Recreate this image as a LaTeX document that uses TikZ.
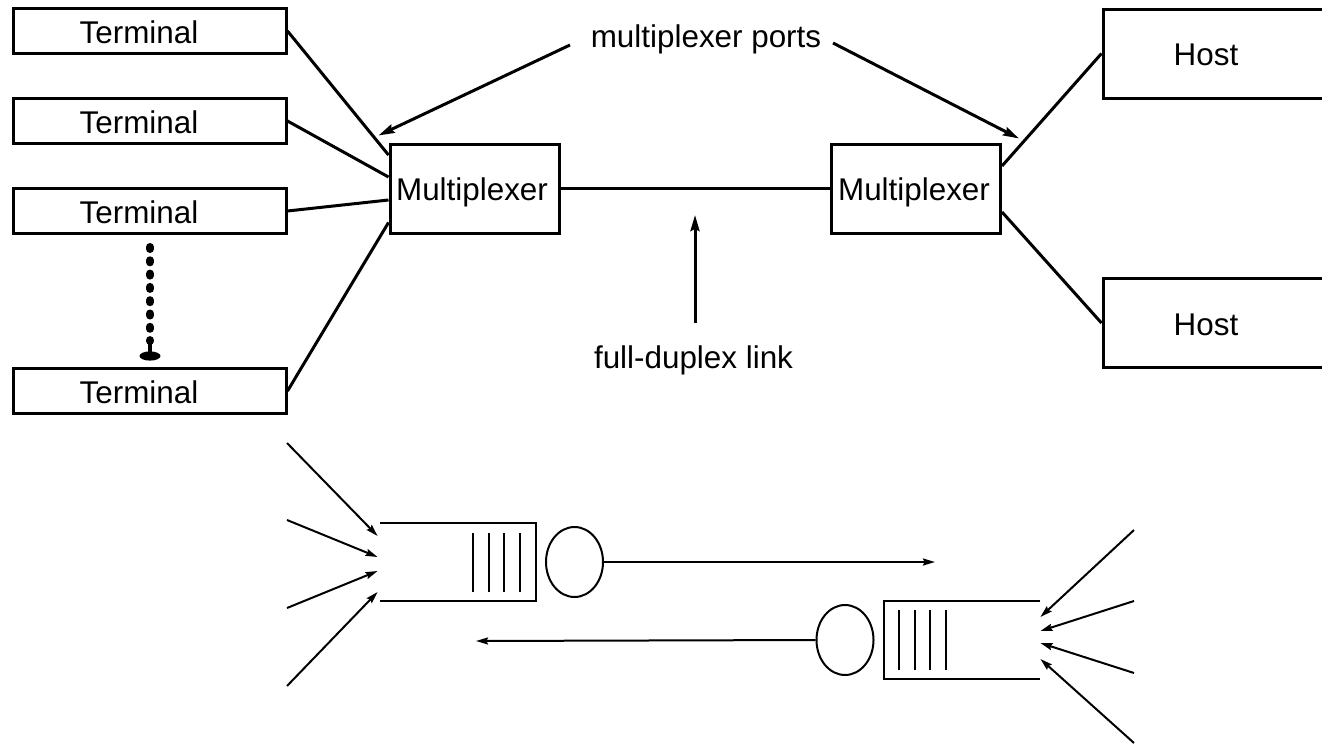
\documentclass[tikz,border=0pt]{standalone}
\usepackage{fontspec}
\setmainfont{Liberation Sans}
\usetikzlibrary{arrows.meta,calc,shapes.geometric}
\begin{document}
\begin{tikzpicture}[x=0.5pt,y=-0.5pt,
  box/.style={draw, rectangle, line width=1.5pt, inner sep=0pt},
  termbox/.style={box, minimum width=136.5pt, minimum height=22.5pt},
  muxbox/.style={box, minimum width=84.5pt, minimum height=44.5pt},
  hostbox/.style={box, minimum width=140pt, minimum height=44.5pt},
  lbl/.style={font=\fontsize{15.7}{18}\selectfont, anchor=base, inner sep=0pt},
  wire/.style={line width=1.5pt},
  ptr/.style={line width=1.5pt, -{Stealth[length=8pt,width=4.5pt,inset=1pt]}},
  qline/.style={line width=1pt},
  qbar/.style={line width=0.8pt},
  feed/.style={line width=1pt, -{Stealth[length=6pt,width=3.5pt,inset=0.8pt]}},
  server/.style={draw, ellipse, line width=1pt, minimum width=28.5pt,
                 minimum height=35pt, inner sep=0pt},
  slot/.style={rectangle, minimum width=78pt, minimum height=39pt, inner sep=0pt}
]
\useasboundingbox (0,0) rectangle (1322,744);

% terminals
\node[termbox] (t1) at (149.5,31) {};
\node[termbox] (t2) at (149.5,121) {};
\node[termbox] (t3) at (149.5,211) {};
\node[termbox] (t4) at (149.5,391) {};
\node[lbl] (t1l) at (139,43) {Terminal};
\node[lbl] (t2l) at (139,133) {Terminal};
\node[lbl] (t3l) at (139,223) {Terminal};
\node[lbl] (t4l) at (139,403) {Terminal};

% more terminals in between
\draw[line width=4pt, line cap=round, dash pattern=on 1pt off 5.65pt]
  ($(t3.south)+(0.5,12)$) -- ($(t4.north)+(0.5,-26)$);
\draw[line width=2pt] ($(t4.north)+(0.5,-25)$) -- ($(t4.north)+(0.5,-12)$);
\fill ($(t4.north)+(0.5,-11)$) ellipse [x radius=5.25pt, y radius=2.3pt];

% multiplexers
\node[muxbox] (m1) at (474.5,188.5) {};
\node[muxbox] (m2) at (916,188.5) {};
\node[lbl] (m1l) at (472,200) {Multiplexer};
\node[lbl] (m2l) at (914,200) {Multiplexer};

% hosts
\node[hostbox] (h1) at (1243,53.5) {};
\node[hostbox] (h2) at (1243,323) {};
\node[lbl] (h1l) at (1206,65) {Host};
\node[lbl] (h2l) at (1206,335) {Host};

% terminal lines
\draw[wire] (t1.east) -- ($(m1.west)+(0,-33.5)$);
\draw[wire] (t2.east) -- ($(m1.west)+(0,-11.5)$);
\draw[wire] (t3.east) -- ($(m1.west)+(0,11.5)$);
\draw[wire] (t4.east) -- ($(m1.west)+(0,34)$);

% link and host lines
\draw[wire] (m1.east) -- (m2.west);
\draw[wire] ($(m2.east)+(0,-22.5)$) -- (h1.west);
\draw[wire] ($(m2.east)+(0,23.5)$) -- (h2.west);

% annotations
\node[lbl] (ports) at (706,47) {multiplexer ports};
\coordinate (pL) at (570,45);
\coordinate (pR) at (833,43);
\draw[ptr] (pL) -- ($(m1.north west)+(-10,-7)$);
\draw[ptr] (pR) -- ($(m2.north east)+(17,-4)$);

\node[lbl] (fd) at (693.5,368) {full-duplex link};
\coordinate (fdB) at (695,323);
\coordinate (fdT) at (695,215);
\draw[ptr] (fdB) -- (fdT);

% queue at the left multiplexer
\node[slot] (q1) at (458,562) {};
\draw[qline] (q1.north west) -- (q1.north east) -- (q1.south east) -- (q1.south west);
\foreach \dx in {15,31,46,62}
  \draw[qbar] ($(q1.center)+(\dx,-29)$) -- ($(q1.center)+(\dx,30)$);
\node[server] (s1) at (574.5,562) {};
\coordinate (o1) at (935,562);
\draw[feed] (s1.east) -- (o1);
\coordinate (a1) at (287,443);
\coordinate (a2) at (287,520);
\coordinate (a3) at (287,608);
\coordinate (a4) at (287,686);
\draw[feed] (a1) -- ($(q1.west)+(-2,-26)$);
\draw[feed] (a2) -- ($(q1.west)+(-2,-5)$);
\draw[feed] (a3) -- ($(q1.west)+(-2,9)$);
\draw[feed] (a4) -- ($(q1.west)+(-2,30)$);

% queue at the right multiplexer
\node[slot] (q2) at (962,640) {};
\draw[qline] (q2.north east) -- (q2.north west) -- (q2.south west) -- (q2.south east);
\foreach \dx in {-63,-47,-32,-16}
  \draw[qbar] ($(q2.center)+(\dx,-30)$) -- ($(q2.center)+(\dx,30)$);
\node[server] (s2) at (845,640) {};
\coordinate (o2) at (476,641);
\draw[feed] (s2.west) -- (o2);
\coordinate (b1) at (1134,530);
\coordinate (b2) at (1134,601);
\coordinate (b3) at (1134,673);
\coordinate (b4) at (1134,743);
\draw[feed] (b1) -- ($(q2.east)+(0,-23)$);
\draw[feed] (b2) -- ($(q2.east)+(0,-9)$);
\draw[feed] (b3) -- ($(q2.east)+(0,3)$);
\draw[feed] (b4) -- ($(q2.east)+(0,19)$);
\end{tikzpicture}
\end{document}
